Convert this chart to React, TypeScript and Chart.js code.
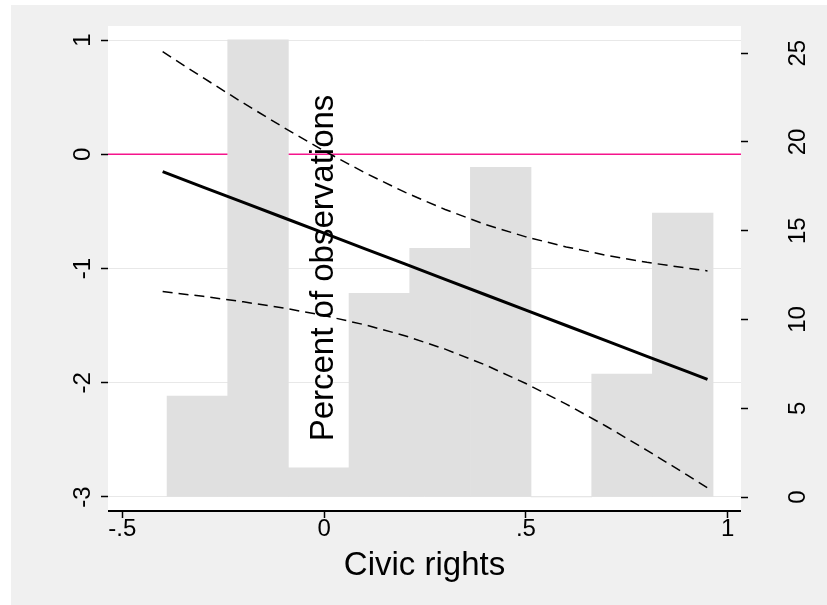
import React, { useEffect, useRef } from 'react';
import { Chart, registerables } from 'chart.js';

Chart.register(...registerables);

// Histogram of observations (right axis, percent)
const binCenters = [-0.3139, -0.1636, -0.0133, 0.137, 0.2873, 0.4376, 0.5879, 0.7383, 0.8886];
const percentObs = [5.69, 25.75, 1.65, 11.48, 14.01, 18.57, 0, 6.93, 16.0];

// Marginal effect with confidence band (left axis)
const civicX = [-0.4, -0.3, -0.2, -0.1, 0, 0.1, 0.2, 0.3, 0.4, 0.5, 0.6, 0.7, 0.8, 0.9, 0.95];
const effect = [-0.152, -0.287, -0.422, -0.556, -0.691, -0.826, -0.96, -1.095, -1.23, -1.365, -1.499, -1.634, -1.769, -1.903, -1.971];
const upperCI = [0.898, 0.67, 0.448, 0.234, 0.03, -0.16, -0.332, -0.484, -0.615, -0.723, -0.811, -0.885, -0.946, -0.997, -1.021];
const lowerCI = [-1.202, -1.244, -1.292, -1.346, -1.412, -1.492, -1.588, -1.706, -1.845, -2.007, -2.187, -2.383, -2.592, -2.809, -2.921];

const refLineValue = 0;

// Ticks
const xTicks = [-0.5, 0, 0.5, 1];
const xTickLabels = ['-.5', '0', '.5', '1'];
const yTicks = [-3, -2, -1, 0, 1];
const y2Ticks = [0, 5, 10, 15, 20, 25];

const xTitle = 'Civic rights';
const y2Title = 'Percent of observations';

const FONT = '"Liberation Sans", Arial, Helvetica, sans-serif';

const toPts = (xs: number[], ys: number[]) => xs.map((x, i) => ({ x, y: ys[i] }));

const zeroPad = (s: any) => {
  s.paddingTop = 0;
  s.paddingBottom = 0;
  s.paddingLeft = 0;
  s.paddingRight = 0;
};

const decorPlugin = {
  id: 'decor',
  beforeDraw(chart: any) {
    const { ctx, chartArea: a } = chart;
    ctx.save();
    ctx.fillStyle = '#ffffff';
    ctx.fillRect(0, 0, chart.width, chart.height);
    ctx.fillStyle = '#f0f0f0';
    ctx.fillRect(11, 5, chart.width - 11, chart.height - 5);
    ctx.fillStyle = '#ffffff';
    ctx.fillRect(a.left, a.top, a.right - a.left, a.bottom - a.top);
    ctx.restore();
  },
  beforeDatasetsDraw(chart: any) {
    const { ctx, chartArea: a } = chart;
    const y = chart.scales.y.getPixelForValue(refLineValue);
    ctx.save();
    ctx.strokeStyle = '#f5148c';
    ctx.lineWidth = 1.5;
    ctx.beginPath();
    ctx.moveTo(a.left, y);
    ctx.lineTo(a.right, y);
    ctx.stroke();
    ctx.restore();
  },
  afterDatasetsDraw(chart: any) {
    const { ctx, chartArea: a } = chart;
    ctx.save();
    // x axis line along the bottom of the plot region
    ctx.strokeStyle = '#000';
    ctx.lineWidth = 2;
    ctx.beginPath();
    ctx.moveTo(a.left, a.bottom + 1);
    ctx.lineTo(a.right, a.bottom + 1);
    ctx.stroke();
    // right-axis title (Stata places it inside the plot region)
    ctx.translate(a.left + 216, (a.top + a.bottom) / 2);
    ctx.rotate(-Math.PI / 2);
    ctx.fillStyle = '#000';
    ctx.font = `33px ${FONT}`;
    ctx.textAlign = 'center';
    ctx.textBaseline = 'middle';
    ctx.fillText(y2Title, 0, 0);
    ctx.restore();
  },
};

export default function App() {
  const ref = useRef<HTMLCanvasElement | null>(null);

  useEffect(() => {
    if (!ref.current) return;
    const chart = new Chart(ref.current, {
      type: 'line',
      data: {
        datasets: [
          {
            type: 'line',
            data: toPts(civicX, effect),
            borderColor: '#000',
            borderWidth: 3,
            pointRadius: 0,
            tension: 0,
            yAxisID: 'y',
            order: 0,
          },
          {
            type: 'line',
            data: toPts(civicX, upperCI),
            borderColor: '#000',
            borderWidth: 1.5,
            borderDash: [10, 6],
            pointRadius: 0,
            tension: 0,
            yAxisID: 'y',
            order: 0,
          },
          {
            type: 'line',
            data: toPts(civicX, lowerCI),
            borderColor: '#000',
            borderWidth: 1.5,
            borderDash: [10, 6],
            pointRadius: 0,
            tension: 0,
            yAxisID: 'y',
            order: 0,
          },
          {
            type: 'bar',
            data: toPts(binCenters, percentObs),
            backgroundColor: '#e0e0e0',
            borderWidth: 0,
            barPercentage: 1,
            categoryPercentage: 1,
            yAxisID: 'y2',
            order: 1,
          },
        ] as any,
      },
      options: {
        responsive: false,
        animation: false,
        events: [],
        layout: { padding: { top: 26, left: 0, right: 0, bottom: 0 } },
        plugins: { legend: { display: false }, tooltip: { enabled: false } },
        scales: {
          x: {
            type: 'linear',
            position: 'bottom',
            min: -0.5354,
            max: 1.033,
            offset: false,
            afterBuildTicks: (s: any) => {
              s.ticks = xTicks.map((v) => ({ value: v }));
            },
            afterFit: (s: any) => {
              s.height = 95;
              zeroPad(s);
            },
            ticks: {
              autoSkip: false,
              maxRotation: 0,
              minRotation: 0,
              padding: -1,
              color: '#000',
              font: { family: FONT, size: 24, lineHeight: 1 },
              callback: (v: any) => {
                const i = xTicks.indexOf(Number(v));
                return i >= 0 ? xTickLabels[i] : '';
              },
            },
            grid: {
              offset: false,
              drawOnChartArea: false,
              drawTicks: true,
              tickLength: 8,
              tickColor: '#000',
              tickWidth: 1.5,
            },
            border: { display: false },
            title: {
              display: true,
              text: xTitle,
              color: '#000',
              font: { family: FONT, size: 33, lineHeight: 1.2 },
              padding: { top: 19.3, bottom: 19.3 },
            },
          } as any,
          y: {
            type: 'linear',
            position: 'left',
            min: -3.114,
            max: 1.1226,
            afterBuildTicks: (s: any) => {
              s.ticks = yTicks.map((v) => ({ value: v }));
            },
            afterFit: (s: any) => {
              s.width = 108;
              zeroPad(s);
            },
            ticks: {
              minRotation: 90,
              maxRotation: 90,
              crossAlign: 'center',
              padding: 6.6,
              color: '#000',
              font: { family: FONT, size: 24, lineHeight: 1.2 },
              callback: (v: any) => String(v),
            },
            grid: {
              offset: false,
              color: '#e8e8e8',
              lineWidth: 1,
              drawOnChartArea: true,
              drawTicks: true,
              tickLength: 7,
              tickColor: '#000',
              tickWidth: 1.5,
            },
            border: { display: false },
          } as any,
          y2: {
            type: 'linear',
            position: 'right',
            min: -0.732,
            max: 26.535,
            afterBuildTicks: (s: any) => {
              s.ticks = y2Ticks.map((v) => ({ value: v }));
            },
            afterFit: (s: any) => {
              s.width = 86;
              zeroPad(s);
            },
            ticks: {
              minRotation: 90,
              maxRotation: 90,
              crossAlign: 'center',
              padding: 37,
              color: '#000',
              font: { family: FONT, size: 24, lineHeight: 1.2 },
              callback: (v: any) => String(v),
            },
            grid: {
              offset: false,
              drawOnChartArea: false,
              drawTicks: true,
              tickLength: 7,
              tickColor: '#000',
              tickWidth: 1.5,
            },
            border: { display: false },
          } as any,
        },
      },
      plugins: [decorPlugin],
    });
    return () => chart.destroy();
  }, []);

  return (
    <div style={{ position: 'absolute', left: 0, top: 0, width: 827, height: 605 }}>
      <canvas ref={ref} width={827} height={605} style={{ display: 'block', width: 827, height: 605 }} />
    </div>
  );
}
